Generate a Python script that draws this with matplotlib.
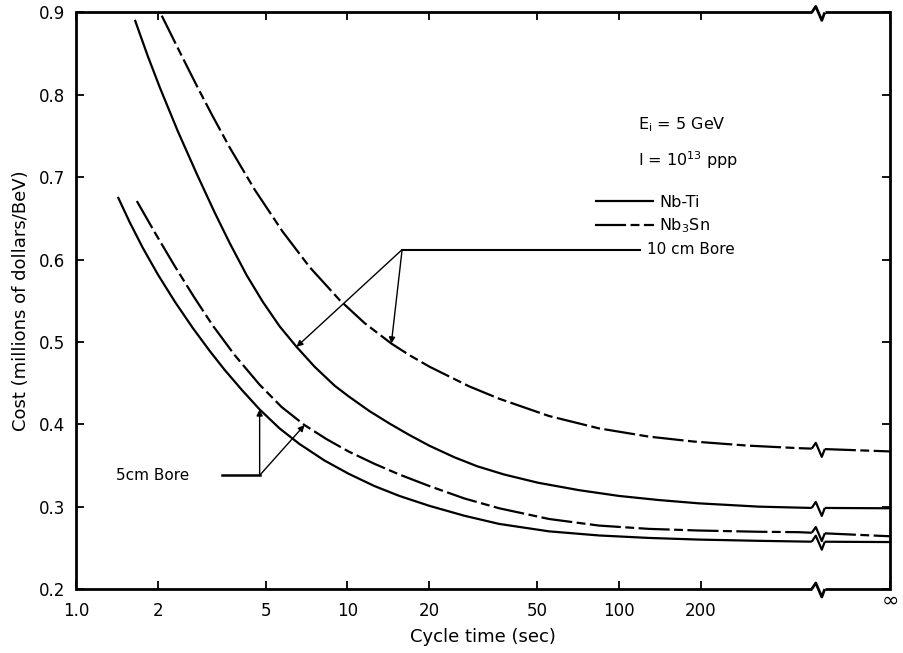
import numpy as np
import matplotlib
matplotlib.use('Agg')
import matplotlib.pyplot as plt
from matplotlib.ticker import NullLocator

# cycle time (sec) and cost (millions of dollars / BeV); 1000 stands for infinity
nbti10_t = [1.648, 1.839, 2.036, 2.371, 2.786, 3.244, 3.684, 4.253, 4.87, 5.623, 6.494, 7.561,
            8.96, 10.09, 12.05, 14.27, 16.9, 20.02, 24.74, 30.06, 37.78, 50.38, 71.27, 100,
            140.3, 196.9, 327.1, 499.4, 1000]
nbti10_c = [0.891, 0.847, 0.809, 0.756, 0.704, 0.657, 0.62, 0.581, 0.549, 0.519, 0.494, 0.47,
            0.447, 0.434, 0.416, 0.401, 0.387, 0.374, 0.36, 0.349, 0.339, 0.329, 0.32, 0.313,
            0.308, 0.304, 0.3, 0.2985, 0.298]

nb3sn10_t = [2.071, 2.412, 2.786, 3.189, 3.684, 4.55, 5.768, 7.249, 9.345, 11.55, 14.51, 16.9,
             20.02, 28.09, 36.22, 55.28, 84.43, 128.9, 188.7, 300.6, 459.0, 1000]
nb3sn10_c = [0.896, 0.852, 0.811, 0.774, 0.736, 0.685, 0.634, 0.591, 0.551, 0.523, 0.498, 0.484,
             0.47, 0.446, 0.431, 0.41, 0.395, 0.385, 0.379, 0.374, 0.371, 0.367]

nbti5_t = [1.427, 1.579, 1.764, 2.002, 2.312, 2.692, 3.11, 3.53, 4.076, 4.749, 5.623, 6.662,
           8.231, 10.09, 12.57, 15.53, 20.02, 26.92, 36.22, 55.28, 84.43, 128.9, 196.9, 327.1,
           499.4, 1000]
nbti5_c = [0.676, 0.645, 0.614, 0.582, 0.549, 0.517, 0.489, 0.466, 0.442, 0.418, 0.395, 0.376,
           0.356, 0.34, 0.325, 0.313, 0.301, 0.289, 0.279, 0.27, 0.265, 0.262, 0.26, 0.2585,
           0.2575, 0.257]

nb3sn5_t = [1.676, 1.951, 2.312, 2.716, 3.189, 3.842, 4.749, 5.719, 6.95, 8.373, 10.09, 12.57,
            15.53, 20.02, 26.92, 36.22, 55.28, 84.43, 128.9, 196.9, 327.1, 459.0, 1000]
nb3sn5_c = [0.671, 0.633, 0.592, 0.555, 0.52, 0.484, 0.448, 0.421, 0.399, 0.382, 0.367, 0.352,
            0.339, 0.325, 0.31, 0.298, 0.285, 0.277, 0.273, 0.271, 0.2695, 0.269, 0.264]

xticks = [1, 2, 5, 10, 20, 50, 100, 200, 1000]
xticklabels = ['1.0', '2', '5', '10', '20', '50', '100', '200', '']
yticks = [0.2, 0.3, 0.4, 0.5, 0.6, 0.7, 0.8, 0.9]

XBREAK = 540
DASH = (14, 2, 4, 2)

fig = plt.figure(figsize=(9.04, 6.53), dpi=100)
ax = fig.add_axes([0.084, 0.098, 0.901, 0.883])
ax.set_xscale('log')
ax.set_xlim(1, 1000)
ax.set_ylim(0.2, 0.9)


def broken(xs, ys, dashes=None, lw=1.6, clip=True, label=None):
    # draw a curve with a zigzag break mark at XBREAK
    xs = np.asarray(xs, float)
    ys = np.asarray(ys, float)
    lx = np.log10(xs)
    yb = np.interp(np.log10(XBREAK), lx, ys)
    X, Y = ax.transData.transform((XBREAK, yb))
    zig = np.array([(-6, 0), (-2, 6), (4, -8), (7, 0)], float) + (X, Y)
    zx, zy = ax.transData.inverted().transform(zig).T
    zy[0] = np.interp(np.log10(zx[0]), lx, ys)
    zy[-1] = np.interp(np.log10(zx[-1]), lx, ys)
    m = xs < zx[0]
    left_x, left_y = np.r_[xs[m], zx[0]], np.r_[ys[m], zy[0]]
    m = xs > zx[-1]
    right_x, right_y = np.r_[zx[-1], xs[m]], np.r_[zy[-1], ys[m]]
    kw = dict(color='black', lw=lw, clip_on=clip, solid_capstyle='butt', dash_capstyle='butt',
              solid_joinstyle='round')
    ls = (0, dashes) if dashes else '-'
    line, = ax.plot(left_x, left_y, ls=ls, label=label, **kw)
    ax.plot(zx, zy, ls='-', **kw)
    ax.plot(right_x, right_y, ls=ls, **kw)
    return line


h_ti = broken(nbti10_t, nbti10_c, label='Nb-Ti')
h_sn = broken(nb3sn10_t, nb3sn10_c, dashes=DASH, label='Nb$_3$Sn')
broken(nbti5_t, nbti5_c)
broken(nb3sn5_t, nb3sn5_c, dashes=DASH)

# frame: top and bottom drawn by hand so they carry the break too
ax.spines['top'].set_visible(False)
ax.spines['bottom'].set_visible(False)
ax.spines['left'].set_linewidth(2)
ax.spines['right'].set_linewidth(2)
broken([1, 1000], [0.9, 0.9], lw=2, clip=False)
broken([1, 1000], [0.2, 0.2], lw=2, clip=False)

ax.set_xticks(xticks)
ax.set_xticklabels(xticklabels)
ax.xaxis.set_minor_locator(NullLocator())
ax.set_yticks(yticks)
ax.set_yticklabels(['%.1f' % v for v in yticks])
ax.tick_params(which='both', direction='in', top=True, right=True, length=6, width=1.3,
               labelsize=12)
ax.tick_params(axis='x', pad=9)
ax.tick_params(axis='y', pad=8)
ax.text(1000, -0.02, '\u221e', transform=ax.get_xaxis_transform(), fontsize=15,
        ha='center', va='center')

ax.set_xlabel('Cycle time (sec)', fontsize=13, labelpad=6)
ax.set_ylabel('Cost (millions of dollars/BeV)', fontsize=13, labelpad=6)

# parameters and legend
ax.text(118, 0.764, 'E$_\\mathrm{i}$ = 5 GeV', fontsize=11.5, va='center')
ax.text(118, 0.721, 'I = 10$^{13}$ ppp', fontsize=11.5, va='center')
ax.legend(handles=[h_ti, h_sn], loc='upper left', bbox_to_anchor=(0.637, 0.684), frameon=False,
          fontsize=11.5, handlelength=3.7, handletextpad=0.35, borderpad=0, borderaxespad=0,
          labelspacing=0.45)

arrow = dict(arrowstyle='-|>', lw=1, color='black', mutation_scale=9, shrinkA=0, shrinkB=0)

# 5 cm bore leader
b5_joint = (4.75, 0.338)
ax.plot([3.44, b5_joint[0]], [b5_joint[1], b5_joint[1]], color='black', lw=1.8)
ax.annotate('', xy=(nbti5_t[9], nbti5_c[9]), xytext=b5_joint, arrowprops=arrow)
ax.annotate('', xy=(nb3sn5_t[8], nb3sn5_c[8]), xytext=b5_joint, arrowprops=arrow)
ax.text(1.40, 0.338, '5cm Bore', fontsize=11, va='center')

# 10 cm bore leader
b10_joint = (15.9, 0.612)
ax.plot([b10_joint[0], 120], [b10_joint[1], b10_joint[1]], color='black', lw=1.5)
ax.annotate('', xy=(nbti10_t[10], nbti10_c[10]), xytext=b10_joint, arrowprops=arrow)
ax.annotate('', xy=(nb3sn10_t[10], nb3sn10_c[10]), xytext=b10_joint, arrowprops=arrow)
ax.text(127, 0.612, '10 cm Bore', fontsize=11, va='center')

fig.savefig('out.png', dpi=100)
